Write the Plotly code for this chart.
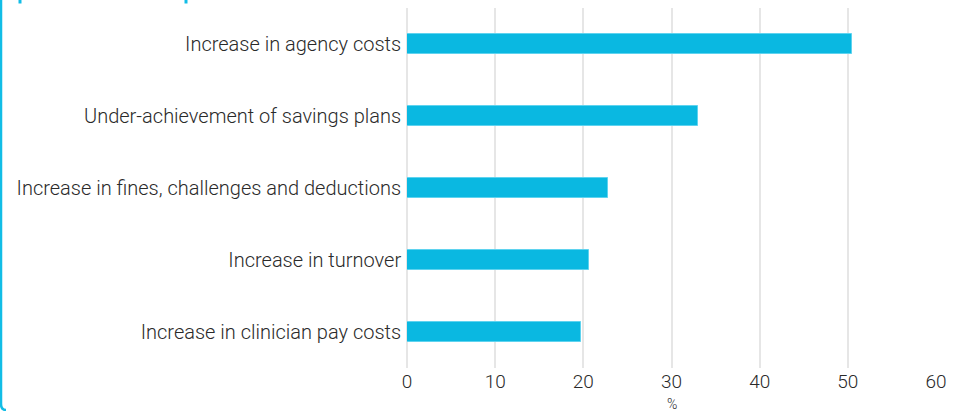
import plotly.graph_objects as go

# Reasons cited, top to bottom
categories = [
    "Increase in agency costs",
    "Under-achievement of savings plans",
    "Increase in fines, challenges and deductions",
    "Increase in turnover",
    "Increase in clinician pay costs",
]
values = [50.5, 33.0, 22.8, 20.6, 19.7]
x_ticks = [0, 10, 20, 30, 40, 50, 60]
x_title = "%"

W, H = 959, 411
L, R, T, B = 407, 23, 8, 43
plot_w = W - L - R

def px_to_paper_x(px):
    return (px - L) / plot_w

def px_to_paper_y(py):
    return 1 - (py - T) / (H - T - B)

fig = go.Figure(
    go.Bar(
        y=categories,
        x=values,
        orientation="h",
        width=0.28,
        marker=dict(color="#0ab8e1", line=dict(color="#5fd3ef", width=1)),
    )
)

border = "#12bde6"
shapes = [
    # left frame edge with rounded lower corner
    dict(type="path", xref="paper", yref="paper",
         path=(f"M {px_to_paper_x(1)},{px_to_paper_y(-5)} "
               f"L {px_to_paper_x(1)},{px_to_paper_y(404)} "
               f"Q {px_to_paper_x(1)},{px_to_paper_y(410)} {px_to_paper_x(6)},{px_to_paper_y(410)}"),
         line=dict(color=border, width=2.5), layer="above"),
    # clipped heading glyph fragments along the top edge
    dict(type="rect", xref="paper", yref="paper",
         x0=px_to_paper_x(18.5), x1=px_to_paper_x(21.5),
         y0=px_to_paper_y(3.5), y1=px_to_paper_y(-2),
         fillcolor=border, line=dict(width=0)),
    dict(type="rect", xref="paper", yref="paper",
         x0=px_to_paper_x(184.5), x1=px_to_paper_x(187.5),
         y0=px_to_paper_y(3.5), y1=px_to_paper_y(-2),
         fillcolor=border, line=dict(width=0)),
]

fig.update_layout(
    width=W, height=H,
    margin=dict(l=L, r=R, t=T, b=B, pad=0),
    paper_bgcolor="white", plot_bgcolor="white",
    showlegend=False,
    font=dict(family="Roboto", weight=300, size=20, color="#2a2a2a"),
    shapes=shapes,
    bargap=0,
    annotations=[
        # x-axis title just beneath the tick labels
        dict(text=x_title, xref="paper", yref="paper",
             x=0.5, y=px_to_paper_y(394), xanchor="center", yanchor="top",
             showarrow=False, font=dict(size=14)),
    ],
)
fig.update_xaxes(
    range=[0, 60], tickvals=x_ticks, ticktext=[str(v) for v in x_ticks],
    showgrid=True, gridcolor="#e6e6e6", gridwidth=2,
    zeroline=True, zerolinecolor="#e6e6e6", zerolinewidth=2,
    showline=False, ticks="", ticklabelstandoff=0,
    tickfont=dict(size=19), automargin=False,
)
fig.update_yaxes(
    categoryorder="array", categoryarray=categories[::-1],
    range=[-0.5, 4.5], showgrid=False, showline=False, zeroline=False,
    ticks="", ticksuffix=" ", tickfont=dict(size=20), automargin=False,
)

fig.write_html("out.html")
